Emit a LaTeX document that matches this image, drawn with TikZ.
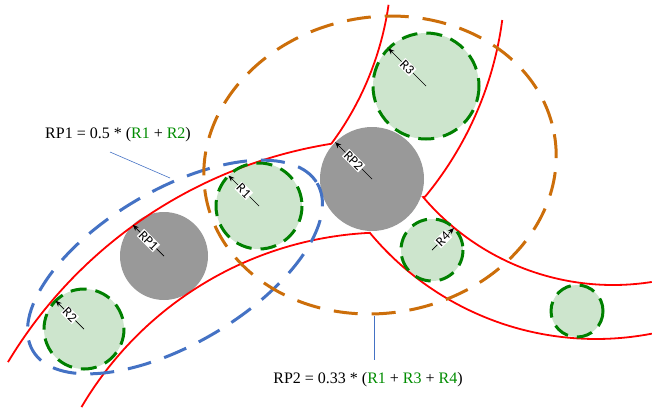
\documentclass[tikz,border=0pt]{standalone}
\usepackage{fontspec}
\setmainfont{Liberation Serif}
\newfontfamily\labelfont{Carlito}
\usetikzlibrary{arrows.meta,calc}
\definecolor{bandred}{RGB}{255,0,0}
\definecolor{ringorange}{RGB}{204,110,10}
\definecolor{ringblue}{RGB}{68,114,196}
\definecolor{throatgreen}{RGB}{0,128,0}
\definecolor{throatfill}{RGB}{205,229,205}
\definecolor{poregray}{RGB}{153,153,153}
\definecolor{textgreen}{RGB}{0,140,0}
\begin{document}
\begin{tikzpicture}[x=1pt,y=-1pt,
  band/.style={draw=bandred,line width=1.8pt,line join=miter},
  pore/.style={fill=poregray},
  throatfillst/.style={fill=throatfill},
  throat/.style={draw=throatgreen,line width=3pt,dash pattern=on 16pt off 9pt},
  ring/.style={line width=3pt,dash pattern=on 24pt off 14pt},
  radiusarrow/.style={draw=black,line width=0.7pt,-{Stealth[length=6pt,width=5pt]}},
  rlabel/.style={fill=white,inner sep=0.8pt,font=\labelfont\fontsize{13.5}{13.5}\selectfont,sloped},
  formula/.style={font=\fontsize{16}{18}\selectfont,inner sep=0pt},
  leader/.style={draw=ringblue,line width=0.6pt}]
\useasboundingbox (0,0) rectangle (652,408);

% centres of pores and throats
\coordinate (cP1) at (164,256);
\coordinate (cP2) at (372,179);
\coordinate (cR1) at (259,206);
\coordinate (cR2) at (84,329);
\coordinate (cR3) at (426,86);
\coordinate (cR4) at (432,250);
\coordinate (cR5) at (577,311);

% filled discs
\fill[pore] (cP1) circle[radius=44];
\fill[pore] (cP2) circle[radius=52];
\fill[throatfillst] (cR1) circle[radius=43];
\fill[throatfillst] (cR2) circle[radius=40];
\fill[throatfillst] (cR3) circle[radius=53];
\fill[throatfillst] (cR4) circle[radius=31];
\fill[throatfillst] (cR5) circle[radius=26];

% channel walls (three bands meeting at a junction)
\draw[band] plot[domain=211:260.9,samples=70] ({404+462*cos(\x)},{600+462*sin(\x)})
  -- plot[domain=0:1,samples=50] ({85+306.7*cos(36.5-28.3*\x)},{-39+306.7*sin(36.5-28.3*\x)});
\draw[band] plot[domain=0:1,samples=50] ({156+349.3*cos(7.57+32.03*\x)},{-26+349.3*sin(7.57+32.03*\x)})
  -- plot[domain=0:1,samples=60] ({613+249*cos(139.7-58.7*\x)},{36+249*sin(139.7-58.7*\x)});
\draw[band] plot[domain=210.5:267.25,samples=70] ({387+354.6*cos(\x)},{587+354.6*sin(\x)})
  -- plot[domain=0:1,samples=60] ({596+294*cos(140.2-61.2*\x)},{45+294*sin(140.2-61.2*\x)});

% dashed throat outlines
\draw[throat] (cR1) circle[radius=43];
\draw[throat] (cR2) circle[radius=40];
\draw[throat] (cR3) circle[radius=53];
\draw[throat] (cR4) circle[radius=31];
\draw[throat] (cR5) circle[radius=26];

% regions of influence
\draw[ring,draw=ringblue,rotate around={30.5:(175,267)}] (175,267) ellipse[x radius=165,y radius=77];
\draw[ring,draw=ringorange,rotate around={10:(380,165)}] (380,165) ellipse[x radius=177,y radius=148];

% radius markers
\draw[radiusarrow] (cP1) -- ($(cP1)+(225:44)$) node[rlabel,midway]{RP1};
\draw[radiusarrow] (cP2) -- ($(cP2)+(225:52)$) node[rlabel,midway]{RP2};
\draw[radiusarrow] (cR1) -- ($(cR1)+(225:43)$) node[rlabel,midway]{R1};
\draw[radiusarrow] (cR2) -- ($(cR2)+(225:40)$) node[rlabel,midway]{R2};
\draw[radiusarrow] (cR3) -- ($(cR3)+(225:53)$) node[rlabel,midway]{R3};
\draw[radiusarrow] (cR4) -- ($(cR4)+(315:31)$) node[rlabel,midway]{R4};

% formulas with leader lines
\node[formula,anchor=base] (f1) at (118,138)
  {RP1 = 0.5 * (\textcolor{textgreen}{R1} + \textcolor{textgreen}{R2})};
\node[formula,anchor=base] (f2) at (368,383)
  {RP2 = 0.33 * (\textcolor{textgreen}{R1} + \textcolor{textgreen}{R3} + \textcolor{textgreen}{R4})};
\coordinate (l1a) at (110,152);
\coordinate (l1b) at (170,178);
\coordinate (l2a) at (374,316);
\coordinate (l2b) at (374,360);
\draw[leader] (l1a) -- (l1b);
\draw[leader] (l2a) -- (l2b);
\end{tikzpicture}
\end{document}
